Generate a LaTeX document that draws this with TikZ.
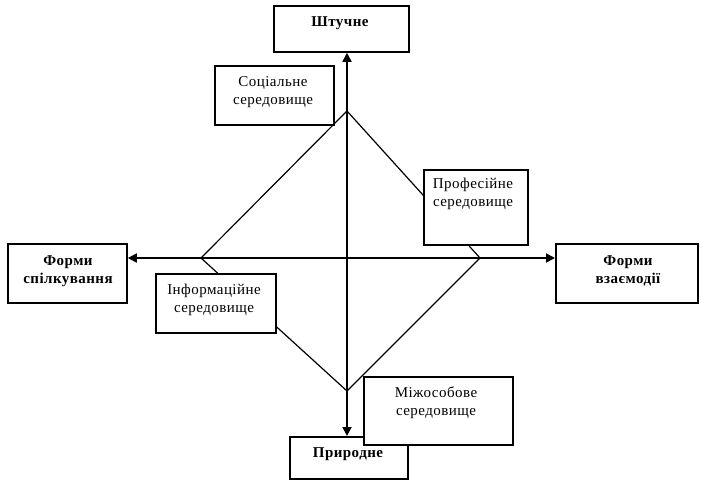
\documentclass[tikz,border=0pt]{standalone}
\usepackage{fontspec}
\setmainfont{Liberation Serif}[LetterSpace=3]
\usetikzlibrary{arrows.meta}
\begin{document}
\begin{tikzpicture}[x=1pt,y=-1pt,
  box/.style={draw=black,line width=1.8pt,fill=white,inner sep=0pt,anchor=north west},
  lbl/.style={font=\fontsize{15}{18}\selectfont,align=center,inner sep=0pt},
  blbl/.style={font=\fontsize{15}{18}\selectfont\bfseries,align=center,inner sep=0pt},
  axis/.style={line width=1.8pt,{Triangle[length=9pt,width=9pt]}-{Triangle[length=9pt,width=9pt]}},
  diam/.style={line width=1.2pt}]
\useasboundingbox (0,0) rectangle (702,480);
% diamond vertices
\coordinate (dt) at (347,111);
\coordinate (dr) at (480,258);
\coordinate (db) at (347,391);
\coordinate (dl) at (201,258);
\draw[diam] (dt) -- (dr) -- (db) -- (dl) -- cycle;
% axis boxes
\node[box,minimum width=135pt,minimum height=46pt] (top) at (273,5) {};
\node[box,minimum width=118pt,minimum height=42pt] (bot) at (289,436) {};
\node[box,minimum width=119pt,minimum height=59pt] (left) at (7,243) {};
\node[box,minimum width=142pt,minimum height=59pt] (right) at (555,243) {};
\draw[axis] (top.south -| 347,0) -- (bot.north -| 347,0);
\draw[axis] (left.east |- 0,258) -- (right.west |- 0,258);
% environment boxes
\node[box,minimum width=119pt,minimum height=59pt] (soc) at (214,65) {};
\node[box,minimum width=104pt,minimum height=75pt] (prof) at (423,169) {};
\node[box,minimum width=120pt,minimum height=59pt] (info) at (155,273) {};
\node[box,minimum width=149pt,minimum height=68pt] (mizh) at (363,376) {};
% labels
\node[blbl] (ttop) at (340,23) {Штучне};
\node[blbl] (tbot) at (348,454) {Природне};
\node[blbl] (tleft) at (68,271) {Форми\\спілкування};
\node[blbl] (tright) at (628,271) {Форми\\взаємодії};
\node[lbl] (tsoc) at (273,92) {Соціальне\\середовище};
\node[lbl] (tprof) at (473,194) {Професійне\\середовище};
\node[lbl] (tinfo) at (214,300) {Інформаційне\\середовище};
\node[lbl] (tmizh) at (436,403) {Міжособове\\середовище};
\end{tikzpicture}
\end{document}
